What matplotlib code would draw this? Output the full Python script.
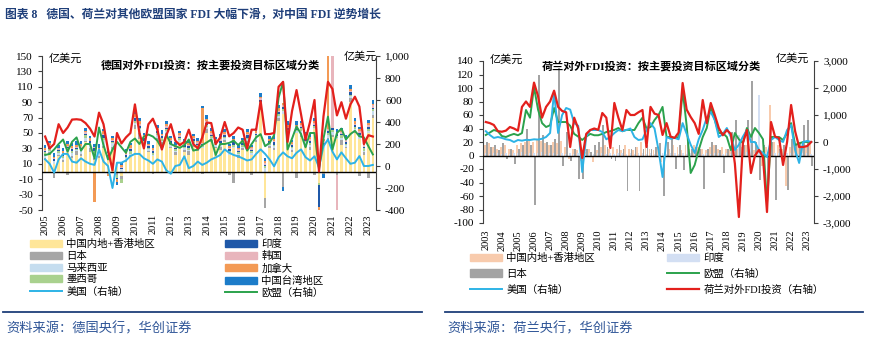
import matplotlib
matplotlib.use("Agg")
import matplotlib.pyplot as plt
import numpy as np
from matplotlib.patches import Patch
from matplotlib.lines import Line2D

plt.rcParams['font.family'] = ['Liberation Serif', 'Noto Sans CJK SC', 'DejaVu Sans']
plt.rcParams['axes.unicode_minus'] = False

# ======================
# Data: Germany (quarterly, 2005Q1 - 2023Q2), bars 亿美元, lines right axis
# ======================
de_years = [str(y) for y in range(2005, 2024)]

de_china = [15, 22, 10, 20, 12, 25, 18, 22, 20, 38, 25, 15, 18, 30, 15, 28,
            6, -6, 12, 20, 55, 42, 30, 25, 20, 40, 35, 45, 30, 22, 38, 25,
            22, 32, 26, 30, 50, 38, 30, 28, 38, 22, 30, 18, 28, 35, 22, 38,
            80, -35, 30, 28, 65, 75, 40, 25, 50, 45, 32, 28, 55, -15, 30, 40,
            45, 42, 35, 30, 90, 50, 42, 22, 50, 70]
de_japan = [2, 3, -8, 2, 3, -5, 2, 4, 3, 2, 5, 3, 2, 3, -3, 4,
            -5, -4, 3, 2, 5, 8, 3, 2, -3, 4, 3, 5, 2, 3, -2, 3,
            4, 2, 3, -3, 5, 3, 2, 4, 3, -5, -15, 3, 2, 4, -5, 3,
            5, -13, 3, 2, 4, -20, 6, 3, -8, 5, 3, 4, -5, 3, -3, 4,
            3, -5, 6, 2, 5, 3, -6, 3, -8, 4]
de_malaysia = [5, 2, 3, 2, 3, 2, 4, 2, 3, 4, 5, 6, 4, 8, 3, 5,
               2, 3, 2, 1, 3, 5, 4, 2, 2, 3, 2, 3, 2, 1, 3, 2,
               2, 3, 2, 2, 3, 2, 3, 2, 2, 3, 2, 2, 2, 3, 2, 3,
               3, 4, 2, 3, 3, 4, 5, 2, 2, 3, 3, 2, 2, 2, 3, 3,
               3, 2, 3, 2, 3, 2, 3, 2, 3, 4]
de_mexico = [3, 2, 1, 2, 2, 3, 2, 1, 2, 3, 2, 3, 2, 3, 2, 1,
             -3, -5, 2, 3, 3, 2, 3, 2, 2, 3, 3, 2, 2, 3, 2, 2,
             3, 2, 3, 2, 2, 3, 2, 3, 2, 2, 3, 2, 3, 2, 2, 3,
             2, 3, 2, 2, 3, 2, 3, 2, 2, 3, 2, 3, 2, -3, 2, 3,
             3, 2, 3, 2, 2, 3, 2, 3, 2, 3]
de_india = [2, 3, 2, 2, 2, 2, 3, 2, 3, 2, 2, 3, 2, 3, 2, 2,
            -2, 2, 2, 3, 3, 2, 3, 2, 2, 2, 3, 2, 3, 2, 2, 2,
            2, 3, 2, 2, 3, 2, 2, 3, 2, 2, 3, 2, 2, 3, 2, 2,
            3, 2, 2, 3, 2, 3, 2, 2, 3, 2, 2, 3, 2, -28, 2, 3,
            2, 3, 2, 2, 3, 2, 3, 2, 3, 2]
de_korea = [1, 2, 1, 2, 2, 1, 2, 1, 2, 2, 1, 2, 1, 2, 2, 1,
            2, 1, 2, 2, 2, 3, 2, 1, 2, 2, 1, 2, 2, 1, 2, 2,
            1, 2, 2, 1, 2, 2, 1, 2, 2, 1, 2, 2, 1, 2, 2, 1,
            2, 2, 1, 2, 2, 3, 2, 2, 2, 2, 3, 2, 2, 2, 3, 2,
            120, -48, 2, 3, 2, 2, 3, 2, 2, 3]
de_canada = [2, 3, 2, 1, 2, 3, 2, 2, 3, 2, 3, -40, 2, 3, -3, 2,
             -3, 2, 2, 3, 4, 3, 2, 2, 2, 3, 2, 3, 2, 2, 3, 2,
             3, 2, 2, 45, 3, 2, 2, 3, 2, 3, 2, 2, 3, 2, 2, 3,
             2, 3, 2, 2, 3, 2, 3, 2, 2, 3, 2, 3, 2, -6, 2, 100,
             3, 2, 3, 2, 2, 3, 2, 2, 3, 2]
de_taiwan = [4, 3, 5, 3, 4, 3, 4, 5, 3, 4, 3, 4, 5, 3, 4, 3,
             -4, 3, 4, 3, 5, 4, 3, 4, 4, 3, 5, 4, 3, 4, 3, 4,
             4, 3, 4, 3, 5, 4, 3, 4, 4, 3, 4, 3, 3, 4, 3, 4,
             5, 3, 4, 4, 4, -5, 4, 3, 4, 3, 4, 4, 4, 3, -5, 4,
             3, 4, 3, 4, 5, 4, 3, 4, 4, 5]

de_total = [268, 160, 200, 380, 300, 350, 422, 425, 420, 390, 340, 268, 485, 380, 150, -40,
            300, 205, 260, 300, 560, 300, 160, 380, 430, 330, 150, 280, 380, 230, 190, 220,
            330, 200, 160, 260, 395, 390, 200, 260, 400, 270, 300, 350, 330, 160, 330, 330,
            590, 290, 290, 300, 720, 765, 220, 500, 690, 470, 240, 400, 600, -50, 450, 765,
            700, 460, 580, 430, 560, 630, 540, 200, 280, 268]
de_eu = [100, 110, 150, 200, 241, 130, 220, 260, 140, 200, 200, 70, 350, 190, 60, 150,
         220, 170, 120, 220, 250, 200, 268, 286, 268, 230, 160, 286, 200, 180, 165, 190,
         241, 140, 150, 190, 214, 241, 100, 200, 200, 210, 230, 190, 230, 140, 200, 260,
         290, 180, 210, 280, 620, 765, 150, 250, 360, 290, 170, 300, 300, -30, 250, 449,
         151, 300, 340, 241, 290, 320, 270, 260, 180, 105]
de_us = [60, 20, -60, 60, 110, 110, 40, 30, 70, 40, 20, 10, 151, 40, 0, -200,
         30, 30, 50, 90, 110, 110, 70, 50, 20, 60, 40, -40, -70, 0, 10, 88,
         -20, 0, 40, 10, 30, 60, 78, 100, 151, 120, 100, 88, 70, 50, 60, 110,
         151, 110, 60, -3, 80, 124, 88, 70, 120, 151, 80, 50, 88, -12, 180, 241,
         130, 60, 124, 70, 20, 30, 90, 0, 0, 10]

# ======================
# Data: Netherlands (quarterly, 2003Q1 - 2023Q2)
# ======================
nl_years = [str(y) for y in range(2003, 2024)]

nl_china = [15, 18, 12, 10, 12, 15, 10, 8, 15, 18, 20, 25, 20, 25, 22, 18,
            15, 20, 18, 22, 12, -5, 10, 8, -8, 5, 10, -10, 8, 12, 15, 10,
            12, 10, 8, 15, 10, 8, 12, 20, 15, 10, 8, 12, -10, 12, 10, 15,
            12, 8, 15, 10, 15, 12, 10, 8, 12, 15, 10, 12, 10, 8, 12, 10,
            12, 15, 10, 8, 10, -15, 12, 75, 20, 15, 10, -45, 12, 18, 15, 10,
            15, 20]
nl_japan = [20, 12, 15, 8, 18, -5, 10, -12, 10, 15, 40, 15, -73, 120, 30, 20,
            15, 25, 130, -15, 35, -8, 10, -35, -35, 10, 5, 15, 20, 45, 12, -5,
            -8, 15, 10, -53, 10, 12, -53, 10, 15, 10, 12, 18, -60, 20, 25, -20,
            15, -21, 20, 10, 12, 10, -50, 10, 20, 15, 8, -26, 10, 35, 53, 20,
            15, 53, 110, 20, -36, 15, -40, 20, -66, 10, 15, -51, 25, 15, 20, 45,
            53, -15]
nl_india = [3, 2, 4, 3, 2, 3, 2, 4, 3, 5, 2, 3, 4, 3, 5, 2,
            3, 4, 2, 3, 2, 3, 2, 4, 3, 2, 3, 2, 4, 3, 2, 3,
            2, 3, 4, 2, 3, 2, 3, 4, 2, 3, 2, 3, 3, 2, 4, 3,
            2, 3, 2, 3, 3, 4, 2, 3, 2, 3, 3, 2, 3, 2, 4, 30,
            3, 5, 20, 4, 90, 3, 5, 3, 4, 3, 2, 3, 3, 4, 2, 3,
            3, 2]

nl_total = [740, 700, 630, 400, 380, 420, 555, 500, 420, 1300, 1500, 1300, 2200, 1700, 900, 1300,
            1500, 1900, 1300, 1150, 1100, -185, 900, 500, -590, 300, 444, 500, 450, 1074, 900, -222,
            1445, 900, 444, 1185, 1000, 1000, 1100, 1185, -185, 1300, 1050, 1000, 260, 700, 200, 150,
            350, 2185, 1200, 926, 700, 300, 1555, 700, 1445, 1000, 518, 250, 444, 300, -800, -2778,
            -37, 444, -1148, -500, -296, -555, -2593, 740, 200, 150, -850, 0, 1370, 400, -185, -185,
            -150, 0]
nl_eu = [260, 350, 444, 400, 220, 185, 250, 300, 250, 330, 1185, 900, 2037, 1200, 700, 555,
         620, 1260, 740, 740, 740, 600, 300, 200, 74, 200, 300, 250, 250, 300, 370, 400,
         450, 518, 400, 450, 444, 444, 700, 900, 500, 555, 815, 1000, 1300, 185, 185, 150,
         185, 1926, 600, -1148, -850, -296, 185, 518, 1300, 815, 333, 333, 185, -300, 333, 100,
         -37, 518, 185, 518, 333, 100, -2260, 185, 185, 185, 74, 333, 700, -111, -50, 0,
         0, 0]
nl_us = [400, 260, 150, 185, 150, 100, 74, 0, 74, 50, 80, 74, 100, 90, 120, 185,
         333, 1850, 333, 1000, 1260, 1200, 700, 600, -1111, 200, 444, 444, 444, 370, 100, 185,
         333, 444, 400, 444, 500, 185, 74, 100, 444, 700, 500, -300, -1296, 185, 120, 150,
         100, 700, 300, -100, -407, 100, 450, 900, 1110, 815, 185, 300, 518, 185, -296, -100,
         200, 444, 0, 0, -300, -400, -555, 74, 185, 74, 0, 444, 630, -300, -777, 0,
         40, 0]

# colours
c_de = {'中国内地+香港地区': '#FFE699', '日本': '#A6A6A6', '马来西亚': '#C5DDEF',
        '墨西哥': '#A9D18E', '印度': '#1F58A8', '韩国': '#E8B5BC',
        '加拿大': '#F39A55', '中国台湾地区': '#1C7CC9'}
c_us = '#2DB3E6'
c_eu = '#2BA24C'
c_red = '#E3201C'
c_nl = {'中国内地+香港地区': '#F8CBAD', '日本': '#A3A3A3', '印度': '#D3DFF3'}
tick_color = '#404040'
navy = '#1F3F7A'


def style_axes(ax, axr, years, ylim, yticks, ylim_r, yticks_r, n, pad):
    ax.set_xlim(-0.7, n - 0.3)
    ax.set_ylim(*ylim)
    ax.set_yticks(yticks)
    axr.set_ylim(*ylim_r)
    axr.set_yticks(yticks_r)
    axr.set_yticklabels([f'{v:,}' for v in yticks_r])
    ax.set_xticks(np.arange(0, n, 4))
    ax.set_xticklabels(years, rotation=90)
    ax.tick_params(axis='x', length=0, pad=pad, labelsize=7.5)
    ax.tick_params(axis='y', length=3, direction='out', labelsize=8, colors='black', color=tick_color)
    axr.tick_params(axis='y', length=3, direction='out', labelsize=8, colors='black', color=tick_color)
    for a in (ax, axr):
        a.spines['top'].set_visible(False)
        a.spines['bottom'].set_visible(False)
    ax.spines['right'].set_visible(False)
    axr.spines['left'].set_visible(False)
    ax.spines['left'].set_color(tick_color)
    axr.spines['right'].set_color(tick_color)
    ax.axhline(0, color='black', lw=1, zorder=3)


def stacked(ax, series, colors, width):
    n = len(series[0])
    x = np.arange(n)
    pos = np.zeros(n)
    neg = np.zeros(n)
    for vals, col in zip(series, colors):
        v = np.array(vals, dtype=float)
        bottom = np.where(v >= 0, pos, neg)
        ax.bar(x, v, width, bottom=bottom, color=col, linewidth=0)
        pos += np.clip(v, 0, None)
        neg += np.clip(v, None, 0)


fig = plt.figure(figsize=(8.7, 3.45), dpi=100)

# ======================
# Left: Germany
# ======================
ax1 = fig.add_axes([42 / 870, 1 - 210 / 345, 334 / 870, 154 / 345])
ax1r = ax1.twinx()
de_series = [de_china, de_japan, de_malaysia, de_mexico, de_india, de_korea, de_canada, de_taiwan]
stacked(ax1, de_series, list(c_de.values()), 0.6)
n1 = len(de_china)
x1 = np.arange(n1)
ax1r.plot(x1, de_us, color=c_us, lw=1.4)
ax1r.plot(x1, de_eu, color=c_eu, lw=1.4)
ax1r.plot(x1, de_total, color=c_red, lw=1.6)
style_axes(ax1, ax1r, de_years, (-50, 150), range(-50, 151, 20),
           (-400, 1000), list(range(-400, 1001, 200)), n1, 3)

fig.text(49 / 870, 1 - 59 / 345, '亿美元', fontsize=8, va='center', family=['Noto Sans CJK SC'])
fig.text(344 / 870, 1 - 57 / 345, '亿美元', fontsize=8, va='center', family=['Noto Sans CJK SC'])
fig.text(101 / 870, 1 - 65 / 345, '德国对外FDI投资：按主要投资目标区域分类', fontsize=8,
         fontweight='bold', va='center')

de_handles = [Patch(color=c_de['中国内地+香港地区']), Patch(color=c_de['日本']),
              Patch(color=c_de['马来西亚']), Patch(color=c_de['墨西哥']),
              Line2D([], [], color=c_us, lw=1.4),
              Patch(color=c_de['印度']), Patch(color=c_de['韩国']),
              Patch(color=c_de['加拿大']), Patch(color=c_de['中国台湾地区']),
              Line2D([], [], color=c_eu, lw=1.4)]
de_labels = ['中国内地+香港地区', '日本', '马来西亚', '墨西哥', '美国（右轴）',
             '印度', '韩国', '加拿大', '中国台湾地区', '欧盟（右轴）']
fig.legend(de_handles, de_labels, ncol=2, loc='upper left',
           bbox_to_anchor=(30 / 870, 1 - 239 / 345), frameon=False, fontsize=7.5,
           handlelength=3.1, handleheight=0.65, handletextpad=0.4, labelspacing=0.2,
           columnspacing=6.7, borderpad=0, borderaxespad=0)

# ======================
# Right: Netherlands
# ======================
ax2 = fig.add_axes([483 / 870, 1 - 223 / 345, 331 / 870, 162 / 345])
ax2r = ax2.twinx()
n2 = len(nl_china)
x2 = np.arange(n2)
for off, vals, col in zip([-0.27, 0, 0.27], [nl_china, nl_india, nl_japan],
                          [c_nl['中国内地+香港地区'], c_nl['印度'], c_nl['日本']]):
    ax2.bar(x2 + off, vals, 0.45, color=col, linewidth=0)
ax2r.plot(x2, nl_eu, color=c_eu, lw=1.4)
ax2r.plot(x2, nl_us, color=c_us, lw=1.4)
ax2r.plot(x2, nl_total, color=c_red, lw=1.6)
style_axes(ax2, ax2r, nl_years, (-100, 140), range(-100, 141, 20),
           (-3000, 3000), list(range(-3000, 3001, 1000)), n2, 5)

fig.text(490 / 870, 1 - 60 / 345, '亿美元', fontsize=8, va='center', family=['Noto Sans CJK SC'])
fig.text(776 / 870, 1 - 59 / 345, '亿美元', fontsize=8, va='center', family=['Noto Sans CJK SC'])
fig.text(542 / 870, 1 - 66 / 345, '荷兰对外FDI投资：按主要投资目标区域分类', fontsize=8,
         fontweight='bold', va='center')

nl_handles = [Patch(color=c_nl['中国内地+香港地区']), Patch(color=c_nl['日本']),
              Line2D([], [], color=c_us, lw=1.4),
              Patch(color=c_nl['印度']), Line2D([], [], color=c_eu, lw=1.4),
              Line2D([], [], color=c_red, lw=1.6)]
nl_labels = ['中国内地+香港地区', '日本', '美国（右轴）', '印度', '欧盟（右轴）', '荷兰对外FDI投资（右轴）']
fig.legend(nl_handles, nl_labels, ncol=2, loc='upper left',
           bbox_to_anchor=(470 / 870, 1 - 253 / 345), frameon=False, fontsize=7.5,
           handlelength=3.1, handleheight=0.75, handletextpad=0.4, labelspacing=0.55,
           columnspacing=6.9, borderpad=0, borderaxespad=0)

# ======================
# Title & footer
# ======================
fig.text(5 / 870, 1 - 15 / 345, '图表 8   德国、荷兰对其他欧盟国家 FDI 大幅下滑，对中国 FDI 逆势增长',
         fontsize=8.5, fontweight='bold', color=navy, va='center')
fig.add_artist(Line2D([3 / 870, 422 / 870], [1 - 312 / 345] * 2, color=navy, lw=1.3))
fig.add_artist(Line2D([445 / 870, 863 / 870], [1 - 312 / 345] * 2, color=navy, lw=1.3))
fig.text(6 / 870, 1 - 329 / 345, '资料来源：德国央行，华创证券', fontsize=9.5, color='#2F5597',
         va='center', style='italic')
fig.text(447 / 870, 1 - 329 / 345, '资料来源：荷兰央行，华创证券', fontsize=9.5, color='#2F5597',
         va='center', style='italic')

fig.savefig('out.png', dpi=100)
